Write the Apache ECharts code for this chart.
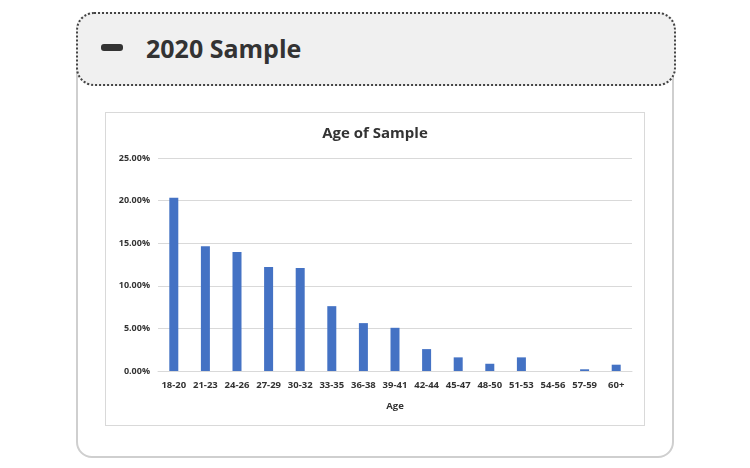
<!DOCTYPE html>
<html>
<head>
<meta charset="utf-8">
<script src="https://cdn.jsdelivr.net/npm/echarts@6/dist/echarts.min.js"></script>
<style>
  html, body { margin: 0; padding: 0; background: #fff; }
  body { width: 750px; height: 468px; position: relative; overflow: hidden; font-family: "Open Sans", sans-serif; }
  .card {
    position: absolute; left: 76px; top: 14px; width: 594px; height: 440px;
    border: 2px solid #cfcfcf; border-radius: 16px; box-sizing: content-box;
  }
  .head {
    position: absolute; left: 76px; top: 12px; width: 596px; height: 70px;
    background: #f0f0f0; border: 2px dotted #444; border-radius: 18px;
  }
  .minus {
    position: absolute; left: 23px; top: 30px; width: 22px; height: 7px;
    background: #333; border-radius: 3px;
  }
  .head h2 {
    position: absolute; left: 68px; top: 17px; margin: 0;
    font-size: 25px; font-weight: 700; color: #333; line-height: 34px;
  }
  .frame {
    position: absolute; left: 105px; top: 112px; width: 538px; height: 312px;
    border: 1px solid #d9d9d9; background: #fff;
  }
  #main { width: 538px; height: 312px; }
</style>
</head>
<body>
<div class="card"></div>
<div class="head"><div class="minus"></div><h2>2020 Sample</h2></div>
<div class="frame"><div id="main"></div></div>
<script>
var ageGroups = ['18-20', '21-23', '24-26', '27-29', '30-32', '33-35', '36-38', '39-41',
                 '42-44', '45-47', '48-50', '51-53', '54-56', '57-59', '60+'];
// share of sample, percent
var sampleShare = [20.34, 14.64, 13.97, 12.22, 12.1, 7.61, 5.62, 5.07,
                   2.57, 1.6, 0.85, 1.6, 0, 0.2, 0.74];

var myChart = echarts.init(document.getElementById('main'));

myChart.setOption({
    animation: false,
    title: {
        text: 'Age of Sample',
        left: 'center',
        top: 8,
        textStyle: { fontFamily: 'Open Sans', fontSize: 15, fontWeight: 'bold', color: '#333' }
    },
    grid: { left: 52, right: 12, top: 45, bottom: 54 },
    xAxis: {
        type: 'category',
        data: ageGroups,
        name: 'Age',
        nameLocation: 'middle',
        nameGap: 30,
        nameTextStyle: { fontFamily: 'Open Sans', fontSize: 9.5, fontWeight: 'bold', color: '#333' },
        axisLine: { lineStyle: { color: '#d9d9d9' } },
        axisTick: { show: false },
        axisLabel: { fontFamily: 'Open Sans', fontSize: 9.5, fontWeight: 'bold', color: '#333', margin: 9, interval: 0 }
    },
    yAxis: {
        type: 'value',
        min: 0,
        max: 25,
        interval: 5,
        axisLine: { show: false },
        axisTick: { show: false },
        splitLine: { lineStyle: { color: '#d9d9d9' } },
        axisLabel: {
            fontFamily: 'Open Sans', fontSize: 9, fontWeight: 'bold', color: '#333', margin: 8,
            formatter: function (v) { return v.toFixed(2) + '%'; }
        }
    },
    series: [{
        type: 'bar',
        data: sampleShare,
        barWidth: 9,
        itemStyle: { color: '#4472c4' }
    }]
});
</script>
</body>
</html>
